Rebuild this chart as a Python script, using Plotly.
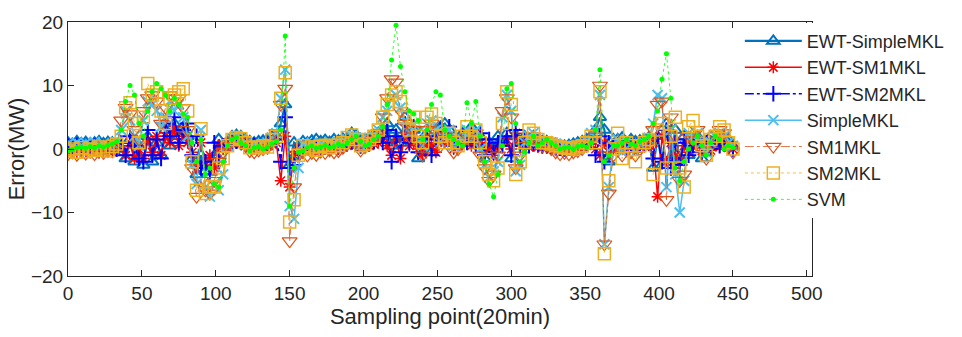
import plotly.graph_objects as go

# sampling points (every 3rd point)
sampling = list(range(0, 451, 3))

ewt_simplemkl = [
    1.0, 0.8, 1.2, 0.9, 1.1, 0.8, 1.0, 1.2, 0.9, 1.1, 1.0, 0.6,
    0.0, -1.5, 1.5, -2.0, 0.5,
    -2.5, 2.0, -2.0, 1.0, -1.0,
    3.0, 0.5, 4.0, 2.0, 3.5,
    2.0, -1.5, -4.0, -1.0, -3.5, -2.5, -1.0, 1.5, 0.5, 1.0,
    2.0, 2.2, 2.0, 1.5, 1.2, 1.0, 1.2, 1.3, 1.5, 2.0, 2.0,
    4.0, 7.0, -2.5, 1.0, 0.5,
    1.2, 1.0, 1.3, 1.5, 1.2, 1.4, 1.1, 1.5, 1.3, 1.6, 1.8, 2.5, 2.2, 1.3, 1.5, 1.8, 2.2,
    2.5, 1.5, 4.0, 0.5, 3.0, 1.0, 5.0, 2.0, 3.0,
    -1.5, 0.5, 2.5, -0.5, 2.0, 3.5, 4.0, 3.0, 1.0, 1.5, 2.5,
    1.5, 3.5, 1.0, 2.0, -1.5, 1.0, 0.0, 2.0, 1.0,
    2.5, -1.5, 2.0, 1.0, 2.0,
    1.5, 2.0, 1.5, 1.2,
    1.2, 1.0, 0.8, 0.6, 0.5, 0.6, 0.8, 1.0, 1.2, 1.5, 2.0,
    3.0, 5.0, 3.0, -2.0, 1.5,
    1.5, 1.8, 1.0, 1.5, 1.2, 1.3, 1.5, 1.8,
    -3.0, 2.0, -2.5, 4.0, -1.5, 3.0, -2.0, 2.0, -1.0,
    1.5, 2.0, -1.5, 1.0, 2.0, 1.5, 2.0, 1.8, 1.5, 0.5,
]

ewt_sm1mkl = [
    -0.5, -0.3, -0.6, -0.2, -0.4, -0.5, -0.3, -0.6, -0.4, -0.2, -0.5, -0.3,
    0.5, -1.0, 1.0, -1.5, 0.0,
    -1.5, 1.5, -0.5, 2.0, -1.0,
    2.0, 1.0, 3.0, 0.5, 2.0,
    1.0, -0.5, -3.0, 1.0, -2.5, -1.0, -3.0, 0.5, 0.0, 0.3,
    0.8, 1.0, 0.8, 0.5, 0.2, 0.0, 0.2, 0.3, 0.5, 0.8, 1.0,
    -5.0, 2.0, -6.0, -1.0, 0.0,
    -0.2, 0.0, -0.3, 0.1, -0.2, 0.0, -0.1, 0.2, 0.0, 0.3, 0.5, 0.8, 0.6, 0.2, 0.3, 0.5, 0.8,
    1.0, 2.0, 0.5, -1.0, 1.5, -1.5, 2.0, 0.5, 1.0,
    0.0, -0.8, 1.0, 0.5, -0.5, 1.5, 1.0, 2.0, 0.0, 0.5, 1.0,
    2.5, 0.5, 2.0, 1.0, -0.5, 0.5, -1.0, 0.5, 1.0,
    1.5, 0.0, 2.5, 1.0, 0.5,
    0.3, 0.5, 0.3, 0.2,
    0.2, 0.1, 0.0, -0.1, -0.2, -0.1, 0.0, 0.2, 0.3, 0.5, 0.8,
    0.0, -1.0, 1.0, -0.5, 0.0,
    0.2, 0.5, 0.0, 0.3, 0.2, 0.4, 0.5, 0.6,
    1.0, -7.5, 2.0, -2.0, 1.0, -1.0, -2.0, 0.5, -0.5,
    0.3, 1.0, -0.3, 0.5, -0.2, 0.8, 0.3, 0.6, 0.2, 0.0,
]

ewt_sm2mkl = [
    0.5, 0.3, 0.6, 0.2, 0.4, 0.1, 0.5, 0.3, 0.2, 0.4, 0.3, 0.0,
    1.0, -1.0, 2.0, 0.5, -1.5,
    -2.0, 3.0, -1.0, 1.5, -1.5,
    4.0, 2.0, 5.0, 1.0, 3.0,
    4.0, -1.0, 2.0, -3.0, -2.0, -4.0, 1.0, -2.0, 0.5, 0.5,
    1.0, 1.2, 1.0, 0.8, 0.5, 0.6, 0.4, 0.6, 0.8, 1.0, 1.5,
    -2.0, 5.0, -3.0, -2.5, -0.5,
    0.2, 0.4, 0.3, 0.5, 0.2, 0.4, 0.3, 0.6, 0.4, 0.8, 1.0, 1.2, 1.0, 0.5, 0.6, 1.0, 1.2,
    2.0, 1.0, 3.0, -2.0, 2.0, -0.5, 4.0, 1.0, 3.5,
    -0.5, 1.0, 2.0, -1.0, 1.5, 3.0, 2.5, 3.5, 0.5, 1.0, 2.0,
    1.0, 3.0, 0.5, 2.5, -1.0, 1.5, -0.5, 1.0, 0.5,
    2.0, -1.0, 3.0, 0.5, 1.5,
    0.5, 1.0, 0.8, 0.5,
    0.5, 0.4, 0.2, 0.1, 0.0, 0.1, 0.2, 0.3, 0.5, 0.8, 1.2,
    -1.0, 2.0, -2.0, 1.0, 0.5,
    0.5, 1.0, 0.3, 0.8, 0.5, 0.6, 0.8, 1.0,
    -1.5, 2.0, -2.0, 3.0, -3.0, 1.0, -2.5, 1.5, -1.0,
    0.5, 1.5, -0.5, 1.0, 0.0, 1.2, 0.5, 1.0, 0.3, 0.0,
]

simplemkl = [
    0.8, 0.5, 1.0, 0.6, 0.9, 0.7, 1.1, 0.5, 0.8, 0.6, 0.9, 1.0,
    3.0, 6.0, 4.5, 2.0, 0.5,
    4.5, 7.5, 7.0, 6.0, 3.5,
    5.0, 7.5, 6.0, 7.0, 5.0,
    2.0, -2.5, -5.5, 3.0, -6.0, -7.5, -5.5, -6.5, -4.0, 0.5,
    1.5, 1.8, 1.5, 1.2, 0.5, 0.8, 0.6, 0.8, 1.0, 1.8, 2.5,
    8.0, 12.5, -9.0, -11.0, -3.0,
    0.8, 0.5, 1.0, 0.6, 0.9, 0.7, 1.1, 0.8, 1.0, 1.2, 1.5, 2.0, 1.8, 0.6, 1.0, 1.5, 2.0,
    3.0, 5.0, 6.0, 8.0, 8.5, 6.5, 4.5, 2.5, 4.0,
    1.5, 0.5, 4.0, 4.5, 3.0, 1.0, 2.5, 3.0, 0.5, 0.8, 1.5,
    3.0, 1.5, 3.0, 0.0, -2.5, -4.5, -3.5, -2.0, 5.0,
    8.5, 6.0, -3.5, -2.5, 1.0,
    2.0, 2.5, 1.2, 1.0,
    1.0, 0.8, 0.6, 0.3, 0.4, 0.2, 0.5, 0.6, 0.8, 1.2, 2.5,
    3.0, 8.5, -15.0, -6.0, 0.5,
    1.5, -0.5, 1.2, 0.8, -0.5, 0.8, 1.0, 1.5,
    4.0, 8.5, 8.0, -6.0, 3.0, -4.0, -10.0, -5.0, 2.5,
    2.0, 2.5, 1.0, -0.5, 1.0, 2.0, 2.5, 2.0, 1.0, 0.5,
]

sm1mkl = [
    -0.8, -0.5, -0.9, -0.3, -0.7, -0.4, -0.8, -0.2, -0.6, -0.3, 0.2, 0.5,
    4.5, 6.5, 5.5, 3.0, 1.5,
    6.0, 8.0, 8.5, 7.5, 4.0,
    6.5, 8.5, 8.0, 8.0, 6.5,
    3.0, -3.0, -7.5, -5.0, -6.5, -7.0, -5.0, -2.0, -0.5, 0.5,
    1.2, 1.5, 1.2, 0.5, -0.3, -0.5, -0.2, 0.0, 0.2, 1.0, 2.5,
    7.0, 9.5, -14.5, -6.0, -1.0,
    -0.5, -1.0, -0.6, -0.9, -0.4, -0.6, -0.2, -0.5, -0.3, 0.2, 0.8, 1.5, 1.2, -0.2, 0.3, 0.8, 1.5,
    2.5, 5.0, 8.0, 11.0, 10.5, 6.0, 4.0, 2.0, 3.0,
    1.0, -1.0, 3.0, 4.0, 2.0, 0.5, 2.0, 1.5, -0.5, 0.0, 1.0,
    2.0, 1.0, 2.5, -1.0, -3.0, -5.0, -4.0, -1.0, 6.0,
    8.0, 5.0, -3.0, -1.0, 0.5,
    1.5, 2.0, 1.0, 0.5,
    0.5, 0.0, -0.5, -0.8, -0.6, -0.8, -0.5, -0.3, 0.0, 0.5, 1.5,
    2.0, 10.0, -15.0, -7.0, -1.0,
    0.5, -1.0, 0.5, -0.5, -1.0, 0.0, 0.5, 1.0,
    3.0, 7.0, 7.5, -8.0, 5.0, 2.0, -5.0, -4.0, 2.0,
    1.5, 3.0, 0.0, -1.5, 0.5, 2.0, 3.0, 2.5, 0.5, -0.5,
]

sm2mkl = [
    -0.3, 0.0, -0.5, 0.2, -0.4, 0.0, -0.2, 0.3, 0.0, -0.3, 0.4, 0.8,
    2.0, 6.5, 7.3, 4.0, 1.0,
    5.0, 10.3, 8.5, 9.0, 6.0,
    4.0, 8.0, 8.5, 9.0, 9.5,
    6.0, -2.0, -6.5, 3.2, -7.0, -6.0, -6.0, -3.0, -1.5, 0.5,
    1.5, 1.8, 1.6, 1.0, 0.2, 0.3, 0.2, 0.5, 0.3, 1.5, 2.0,
    8.0, 12.0, -11.5, -8.0, -1.0,
    0.5, 0.0, 0.3, -0.2, 0.4, 0.6, 0.2, 0.5, 0.6, 1.0, 1.8, 2.2, 1.5, 0.5, 0.8, 1.5, 2.0,
    3.0, 5.0, 7.0, 8.5, 9.0, 7.5, 5.0, 3.0, 5.0,
    2.0, 1.0, 5.0, 5.5, 4.0, 2.0, 1.0, 2.5, 1.0, 0.5, 2.0,
    3.5, 2.0, 3.0, 1.0, -2.0, -4.0, -5.0, -3.0, 4.0,
    9.0, 7.0, -4.0, -2.0, 1.0,
    3.0, 2.5, 1.5, 1.0,
    1.0, 0.8, 0.5, 0.3, 0.2, 0.1, 0.0, 0.3, 0.5, 1.0, 2.0,
    1.0, 9.0, -16.5, -5.0, 0.0,
    2.5, -1.5, 1.0, 0.5, -2.0, 0.5, 1.0, 1.5,
    -4.0, 3.0, 4.0, -3.0, 2.0, 5.0, -3.0, -6.0, 3.5,
    4.5, 2.0, 0.5, -1.0, 1.5, 2.0, 3.5, 3.0, 1.0, 0.0,
]

svm = [
    -0.3, -0.1, 0.2, 0.3, 0.1, 0.4, 0.2, 0.5, 0.3, 0.6, 0.8, 1.2,
    3.0, 7.5, 10.0, 8.5, 4.0,
    2.0, 6.0, 9.0, 10.3, 9.5,
    8.5, 6.0, 8.0, 7.0, 5.5,
    5.0, 1.0, -2.0, 1.5, -4.0, -3.0, -5.5, -6.0, -2.0, 0.5,
    1.5, 1.8, 1.0, 0.6, -0.3, 0.2, 0.4, 0.0, 0.3, 0.8, 1.2,
    3.0, 17.8, -9.0, -3.0, -0.5,
    -0.3, 0.2, 0.5, 0.1, 0.3, 0.6, 0.2, 0.4, 0.8, 0.5, 1.0, 1.5, 2.0, 1.2, 0.5, 0.8, 1.5,
    2.0, 3.5, 7.0, 14.0, 19.5, 13.0, 9.0, 6.0, 5.5,
    4.5, 1.5, 3.0, 7.0, 9.0, 8.5, 3.0, 2.0, 1.5, 1.0, 0.5,
    7.3, 4.0, 7.5, 2.0, -2.0, -5.5, -7.5, -4.0, 0.5,
    9.5, 10.3, 4.0, -2.0, -0.5,
    1.0, 2.0, 0.5, 1.0,
    1.5, 1.0, 0.5, 0.0, 0.2, 0.3, 0.0, 0.4, 0.6, 0.3, 1.0,
    3.0, 12.5, -2.0, -1.0, 0.5,
    0.5, 1.0, 1.5, 0.8, 0.5, 1.2, 1.5, 2.0,
    4.0, 6.0, 11.0, 15.0, 8.0, -3.0, -5.0, -2.0, 0.0,
    1.0, 2.0, 0.5, -1.0, 1.0, 2.0, 1.5, 0.0, 0.5, 0.2,
]

names = ["EWT-SimpleMKL", "EWT-SM1MKL", "EWT-SM2MKL", "SimpleMKL", "SM1MKL", "SM2MKL", "SVM"]
series = [ewt_simplemkl, ewt_sm1mkl, ewt_sm2mkl, simplemkl, sm1mkl, sm2mkl, svm]
for s in series:
    assert len(s) == len(sampling), len(s)

styles = [
    dict(color="#0072BD", width=2.2, dash="solid", symbol="triangle-up-open", size=11, mlw=2),
    dict(color="#FF0000", width=1.5, dash="solid", symbol="asterisk-open", size=10, mlw=1.5),
    dict(color="#0000FF", width=1.5, dash="dashdot", symbol="cross-thin-open", size=11, mlw=2),
    dict(color="#4DBEEE", width=1.5, dash="solid", symbol="x-thin-open", size=10, mlw=2),
    dict(color="#D95319", width=0.8, dash="dashdot", symbol="triangle-down-open", size=13, mlw=1.2),
    dict(color="#EDB120", width=0.8, dash="dot", symbol="square-open", size=12, mlw=1.5),
    dict(color="#00FF00", width=0.8, dash="dot", symbol="circle", size=5, mlw=0),
]

fig = go.Figure()
for name, vals, st in zip(names, series, styles):
    fig.add_trace(go.Scatter(
        x=sampling, y=vals, name=name, mode="lines+markers", legendgroup=name,
        line=dict(color=st["color"], width=st["width"], dash=st["dash"]),
        marker=dict(symbol=st["symbol"], size=st["size"], color=st["color"],
                    line=dict(color=st["color"], width=st["mlw"])),
    ))

axis_common = dict(
    showline=True, linecolor="#262626", linewidth=1, mirror="ticks",
    ticks="inside", ticklen=6, tickcolor="#262626", showgrid=False, zeroline=False,
    tickfont=dict(family="Liberation Sans, Arial", size=19, color="#262626"),
)
fig.update_layout(
    width=962, height=337,
    margin=dict(l=68, r=150, t=18, b=61),
    paper_bgcolor="white", plot_bgcolor="white",
    font=dict(family="Liberation Sans, Arial", color="#262626"),
    xaxis=dict(range=[0, 503.5], tickvals=[0, 50, 100, 150, 200, 250, 300, 350, 400, 450, 500],
               title=dict(text="Sampling point(20min)", font=dict(size=22), standoff=0), **axis_common),
    yaxis=dict(range=[-20, 20], tickvals=[-20, -10, 0, 10, 20],
               title=dict(text="Error(MW)", font=dict(size=22), standoff=0), **axis_common),
    legend=dict(x=0.903, y=0.997, xanchor="left", yanchor="top", bgcolor="white",
                borderwidth=0, font=dict(size=18, color="#262626"), tracegroupgap=0,
                itemwidth=57),
)

fig.write_html("out.html")
